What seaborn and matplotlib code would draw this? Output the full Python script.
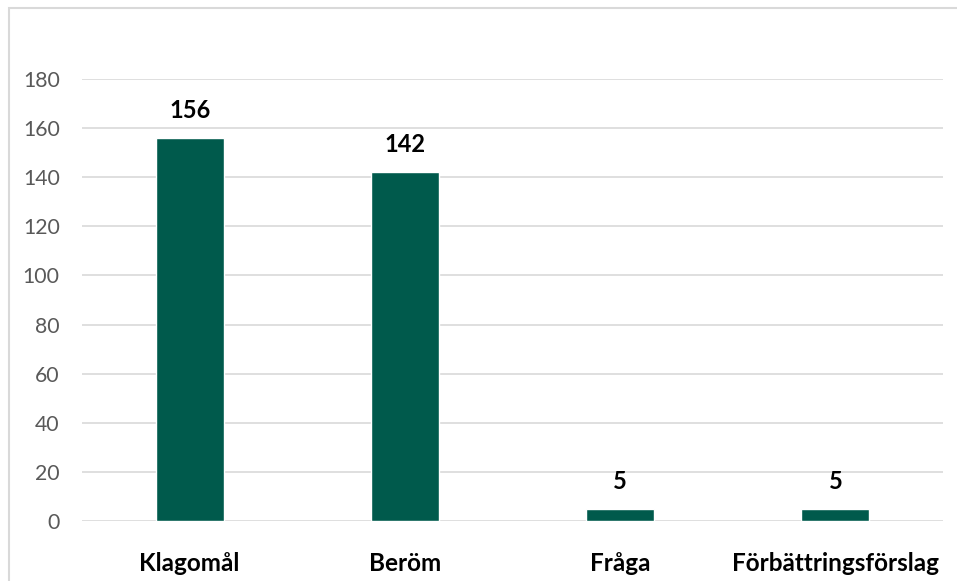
import matplotlib
matplotlib.use("Agg")
import matplotlib.pyplot as plt
import seaborn as sns
import pandas as pd
from matplotlib.patches import Rectangle

categories = ["Klagomål", "Beröm", "Fråga", "Förbättringsförslag"]
values = [156, 142, 5, 5]
yticks = [0, 20, 40, 60, 80, 100, 120, 140, 160, 180]

sns.set_theme(style="white")
plt.rcParams["font.family"] = ["Lato", "DejaVu Sans"]

df = pd.DataFrame({"cat": categories, "val": values})

fig = plt.figure(figsize=(9.57, 5.81), dpi=100)
ax = fig.add_axes([82/957, 1-521/581, (943-82)/957, (521-79)/581])

sns.barplot(data=df, x="cat", y="val", color="#005A4C", saturation=1, width=0.316, ax=ax, zorder=3)

ax.set_ylim(0, 180)
ax.set_xlim(-0.5, 3.5)
ax.set_yticks(yticks)
ax.set_yticklabels([str(t) for t in yticks], fontsize=15.3, color="#595959")
ax.set_xticks(range(len(categories)))
ax.set_xticklabels(categories, fontsize=17.5, fontweight="bold", color="#000000")
ax.tick_params(axis="both", length=0)
ax.tick_params(axis="x", pad=22)
ax.tick_params(axis="y", pad=16)
ax.set_xlabel("")
ax.set_ylabel("")
ax.yaxis.grid(True, color="#d9d9d9", linewidth=1.2, zorder=0)
ax.set_axisbelow(True)
for s in ax.spines.values():
    s.set_visible(False)

for i, v in enumerate(values):
    ax.annotate(str(v), (i, v), xytext=(0, 16), textcoords="offset pixels",
                ha="center", va="bottom", fontsize=17, fontweight="bold", color="#000000")

fig.patches.append(Rectangle((9/957, -0.1), 1.2, 1 - 8/581 + 0.1, transform=fig.transFigure,
                             fill=False, edgecolor="#d9d9d9", linewidth=1.5))

fig.savefig("out.png", dpi=100)
